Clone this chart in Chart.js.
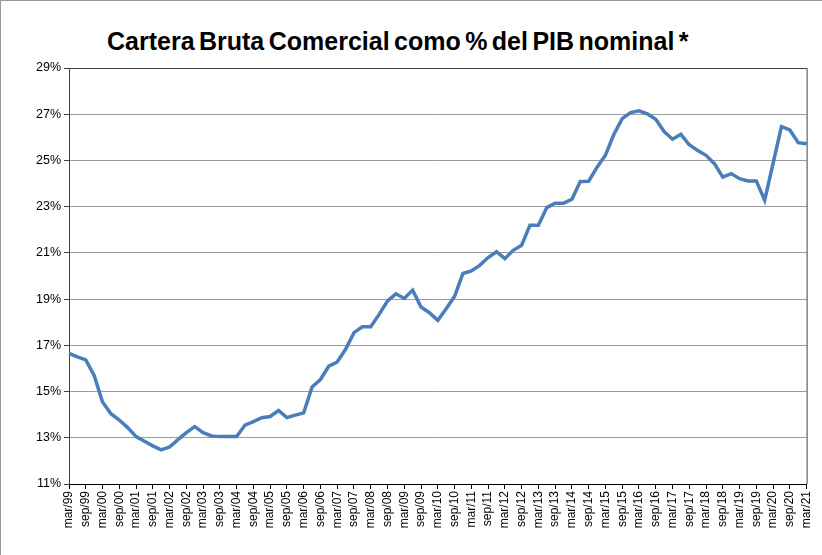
<!DOCTYPE html>
<html>
<head>
<meta charset="utf-8">
<script src="https://cdn.jsdelivr.net/npm/chart.js@4.4.1/dist/chart.umd.min.js"></script>
<style>
  body { margin: 0; background: #fff; }
  #wrap { position: relative; width: 822px; height: 555px; box-sizing: border-box; border-top: 1px solid #9a9a9a; border-left: 1px solid #9a9a9a; }
  #titulo { position: absolute; left: 106px; top: 28px; font: bold 25px "Liberation Sans", Arial, sans-serif; line-height: 25px; white-space: nowrap; word-spacing: -2.5px; color: #000; }
  canvas { position: absolute; left: 0; top: 0; }
</style>
</head>
<body>
<div id="wrap">
  <div id="titulo">Cartera Bruta Comercial como % del PIB nominal *</div>
  <canvas id="linechart" width="822" height="555"></canvas>
</div>
<script>
// trimestres mar/99 .. mar/21
const meses = ['mar', 'jun', 'sep', 'dic']
const anios = ['99', '00', '01', '02', '03', '04', '05', '06', '07', '08', '09', '10',
  '11', '12', '13', '14', '15', '16', '17', '18', '19', '20', '21']

const trimestres = []
anios.forEach((a, i) => {
  meses.forEach(m => {
    if (i < anios.length - 1 || m === 'mar') trimestres.push(m + '/' + a)
  })
})

// cartera bruta comercial / PIB nominal, en %
const carteraPib = [
  16.65, 16.50, 16.37, 15.70, 14.55, 14.04, 13.77, 13.44, 13.05, 12.85,
  12.65, 12.48, 12.60, 12.92, 13.22, 13.48, 13.22, 13.08, 13.05, 13.05,
  13.05, 13.55, 13.70, 13.87, 13.92, 14.18, 13.87, 13.98, 14.08, 15.20,
  15.52, 16.10, 16.28, 16.83, 17.55, 17.80, 17.80, 18.34, 18.92, 19.23,
  19.03, 19.39, 18.66, 18.41, 18.08, 18.58, 19.12, 20.11, 20.22, 20.46,
  20.80, 21.05, 20.75, 21.11, 21.33, 22.20, 22.20, 22.96, 23.15, 23.15,
  23.32, 24.09, 24.10, 24.71, 25.23, 26.12, 26.81, 27.07, 27.15, 27.02,
  26.78, 26.25, 25.92, 26.13, 25.68, 25.43, 25.22, 24.86, 24.28, 24.43,
  24.21, 24.11, 24.11, 23.28, 24.87, 26.46, 26.32, 25.77, 25.72
]

const yMin = 11
const yMax = 29
const yPaso = 2

// marco del area de trazado (arriba y derecha)
const marco = {
  id: 'marco',
  afterDraw(chart) {
    const { ctx, chartArea } = chart
    ctx.save()
    ctx.strokeStyle = '#404040'
    ctx.lineWidth = 1
    ctx.beginPath()
    ctx.moveTo(chartArea.left, chartArea.top + 0.5)
    ctx.lineTo(chartArea.right + 0.5, chartArea.top + 0.5)
    ctx.lineTo(chartArea.right + 0.5, chartArea.bottom)
    ctx.stroke()
    ctx.restore()
  }
}

const ctx = document.getElementById('linechart')

new Chart(ctx, {
  type: 'line',
  data: {
    labels: trimestres,
    datasets: [{
      label: 'Cartera Bruta Comercial / PIB',
      data: carteraPib,
      borderColor: '#4a7ebb',
      borderWidth: 3.5,
      pointRadius: 0,
      tension: 0,
      fill: false
    }]
  },
  options: {
    responsive: false,
    animation: false,
    layout: { padding: { top: 67, right: 14, bottom: 0, left: 0 } },
    plugins: {
      legend: { display: false },
      tooltip: { enabled: false }
    },
    scales: {
      x: {
        offset: false,
        afterFit: (scale) => { scale.height = 72 },
        grid: {
          drawOnChartArea: false,
          tickLength: 5,
          tickColor: (c) => c.index % 2 === 0 ? '#000' : 'rgba(0,0,0,0)'
        },
        border: { color: '#000', width: 1 },
        ticks: {
          autoSkip: false,
          minRotation: 90,
          maxRotation: 90,
          padding: 2,
          color: '#000',
          font: { family: '"Liberation Sans", Arial, sans-serif', size: 12 },
          callback: function (val, i) {
            return i % 2 === 0 ? this.getLabelForValue(val) : ''
          }
        }
      },
      y: {
        min: yMin,
        max: yMax,
        afterFit: (scale) => { scale.width = 68 },
        grid: {
          color: '#9c9c9c',
          lineWidth: 1,
          tickLength: 5,
          tickColor: '#404040'
        },
        border: { color: '#404040', width: 1 },
        ticks: {
          stepSize: yPaso,
          padding: 3,
          color: '#000',
          font: { family: '"Liberation Sans", Arial, sans-serif', size: 12.5 },
          callback: (v) => v + '%'
        }
      }
    }
  },
  plugins: [marco]
})
</script>
</body>
</html>
